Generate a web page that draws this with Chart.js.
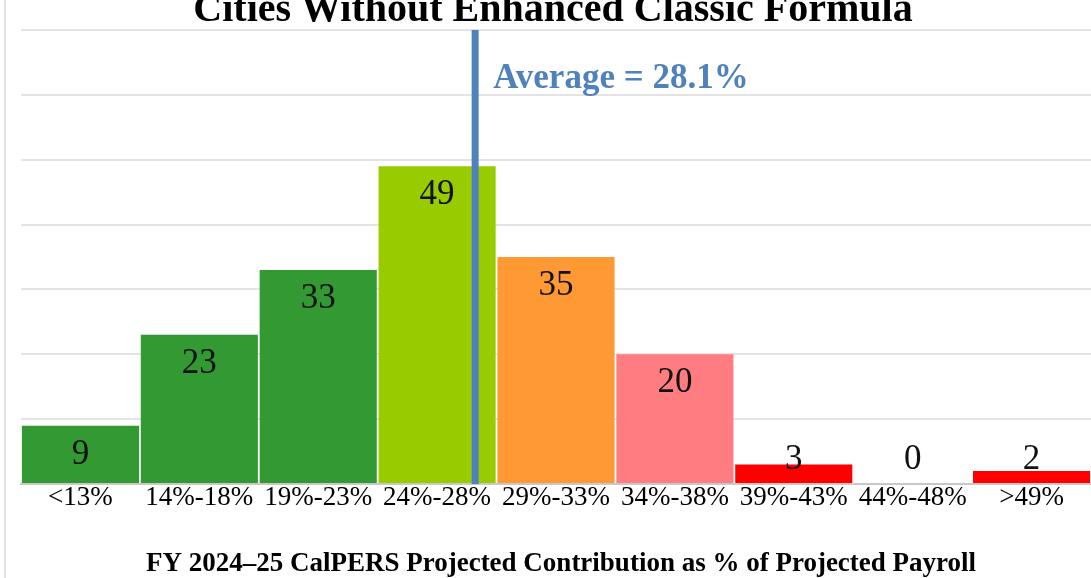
<!DOCTYPE html>
<html><head><meta charset="utf-8">
<script src="https://cdn.jsdelivr.net/npm/chart.js@4/dist/chart.umd.min.js"></script>
<style>html,body{margin:0;padding:0;background:#fff}#wrap{width:1091px;height:578px;position:relative}</style>
</head><body><div id="wrap"><canvas id="c"></canvas></div>
<script>
const categories = ['<13%','14%-18%','19%-23%','24%-28%','29%-33%','34%-38%','39%-43%','44%-48%','>49%'];
const cityCounts = [9,23,33,49,35,20,3,0,2];
const barColors = ['#339933','#339933','#339933','#99CC00','#FF9933','#FF7C80','#FF0000','#FF0000','#FF0000'];
const averageValue = 28.1;
const averageBinIndex = 3, averageBinLow = 24, averageBinWidth = 5;
const chartTitle = 'Cities Without Enhanced Classic Formula';
const axisTitle = 'FY 2024\u201325 CalPERS Projected Contribution as % of Projected Payroll';
const SERIF = '"Liberation Serif","Times New Roman",serif';

const overlay = {
  id:'overlay',
  afterDatasetsDraw(chart){
    const {ctx, chartArea:a, scales:{x,y}} = chart;
    const meta = chart.getDatasetMeta(0);
    ctx.save();
    ctx.fillStyle = '#111';
    ctx.font = '35px ' + SERIF;
    ctx.textAlign = 'center'; ctx.textBaseline = 'middle';
    meta.data.forEach((bar,i)=>{
      const yy = Math.min(bar.y + 29, y.getPixelForValue(0) - 24);
      ctx.fillText(String(cityCounts[i]), bar.x, yy);
    });
    const pos = averageBinIndex + (averageValue - averageBinLow)/averageBinWidth - 0.5;
    const step = x.getPixelForValue(1) - x.getPixelForValue(0);
    const px = x.getPixelForValue(averageBinIndex) + (pos - averageBinIndex)*step;
    ctx.strokeStyle = '#4F81BD'; ctx.lineWidth = 7;
    ctx.beginPath(); ctx.moveTo(px, a.top); ctx.lineTo(px, a.bottom); ctx.stroke();
    ctx.fillStyle = '#4F81BD';
    ctx.font = 'bold 35px ' + SERIF;
    ctx.textAlign = 'left'; ctx.textBaseline = 'alphabetic';
    ctx.fillText('Average = ' + averageValue.toFixed(1) + '%', px + 18, a.top + 58);
    ctx.fillStyle = '#000';
    ctx.font = 'bold 40px ' + SERIF;
    ctx.textAlign = 'center';
    ctx.fillText(chartTitle, 553, 21);
    ctx.font = 'bold 27px ' + SERIF;
    ctx.fillText(axisTitle, 561, 571);
    ctx.strokeStyle = '#d9d9d9'; ctx.lineWidth = 1.5;
    ctx.beginPath(); ctx.moveTo(5, 0); ctx.lineTo(5, 578); ctx.stroke();
    ctx.restore();
  }
};

new Chart(document.getElementById('c'), {
  type:'bar',
  data:{ labels:categories, datasets:[{ data:cityCounts, backgroundColor:barColors, categoryPercentage:1, barPercentage:0.985 }]},
  options:{
    responsive:true, maintainAspectRatio:false, animation:false,
    layout:{padding:{left:21,right:0,top:30,bottom:0}},
    plugins:{legend:{display:false}, tooltip:{enabled:false}},
    scales:{
      x:{ grid:{display:false, drawTicks:false}, border:{color:'#c8c8c8', width:2},
          ticks:{color:'#000', font:{family:SERIF, size:27, lineHeight:1}, padding:0, maxRotation:0, autoSkip:false},
          afterFit(s){ s.height = 578 - 30 - 454; } },
      y:{ min:0, max:70, ticks:{display:false, stepSize:10}, border:{display:false},
          grid:{color:'#e4e4e4', lineWidth:2, drawTicks:false},
          afterFit(s){ s.width = 0; } }
    }
  },
  plugins:[overlay]
});
</script></body></html>
